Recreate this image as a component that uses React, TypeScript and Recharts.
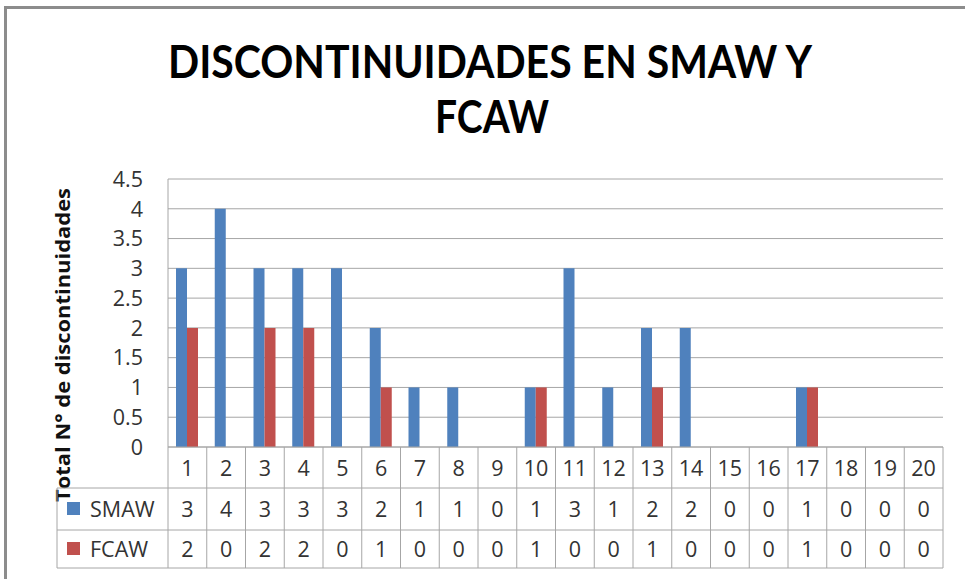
import React from "react";
import { BarChart, Bar, XAxis, YAxis, CartesianGrid } from "recharts";

const categories = ["1","2","3","4","5","6","7","8","9","10","11","12","13","14","15","16","17","18","19","20"];
const smaw = [3,4,3,3,3,2,1,1,0,1,3,1,2,2,0,0,1,0,0,0];
const fcaw = [2,0,2,2,0,1,0,0,0,1,0,0,1,0,0,0,1,0,0,0];
const yTicks = [0,0.5,1,1.5,2,2.5,3,3.5,4,4.5];
const seriesNames = ["SMAW", "FCAW"];
const titleLines = ["DISCONTINUIDADES EN SMAW Y", "FCAW"];
const yLabel = "Total N° de discontinuidades";

const data = categories.map((c, i) => ({ cat: c, SMAW: smaw[i], FCAW: fcaw[i] }));

const W = 965;
const H = 579;
const PL = 168;
const PR = 943;
const PT = 179;
const PB = 447;
const BW = (PR - PL) / categories.length;
const ROW1 = 488;
const ROW2 = 530;
const ROW3 = 568;
const TLEFT = 57;
const LINE = "#A6A6A6";
const BLUE = "#4F81BD";
const RED = "#C0504D";
const FONT = "'Open Sans', 'Noto Sans', sans-serif";
const TXT = "#333333";
const FS = 21.5;

const TableTick = (props: any) => {
  const { x, index, payload } = props;
  const i = index;
  const left = x - BW / 2;
  const right = x + BW / 2;
  return (
    <g>
      {i === 0 && (
        <g>
          <line x1={PL} y1={PB} x2={PR} y2={PB} stroke={LINE} />
          <line x1={TLEFT} y1={ROW1} x2={PR} y2={ROW1} stroke={LINE} />
          <line x1={TLEFT} y1={ROW2} x2={PR} y2={ROW2} stroke={LINE} />
          <line x1={TLEFT} y1={ROW3} x2={PR} y2={ROW3} stroke={LINE} />
          <line x1={TLEFT} y1={ROW1} x2={TLEFT} y2={ROW3} stroke={LINE} />
          <rect x={67} y={(ROW1 + ROW2) / 2 - 7} width={13} height={13} fill={BLUE} />
          <text x={90} y={(ROW1 + ROW2) / 2} dy="0.36em" fontSize={FS} fill={TXT} fontFamily={FONT}>{seriesNames[0]}</text>
          <rect x={67} y={(ROW2 + ROW3) / 2 - 7} width={13} height={13} fill={RED} />
          <text x={90} y={(ROW2 + ROW3) / 2} dy="0.36em" fontSize={FS} fill={TXT} fontFamily={FONT}>{seriesNames[1]}</text>
        </g>
      )}
      <line x1={left} y1={PB} x2={left} y2={ROW3} stroke={LINE} />
      {i === categories.length - 1 && <line x1={right} y1={PB} x2={right} y2={ROW3} stroke={LINE} />}
      <text x={x} y={(PB + ROW1) / 2 + 1} dy="0.36em" textAnchor="middle" fontSize={FS} fill={TXT} fontFamily={FONT}>{payload.value}</text>
      <text x={x} y={(ROW1 + ROW2) / 2} dy="0.36em" textAnchor="middle" fontSize={FS} fill={TXT} fontFamily={FONT}>{smaw[i]}</text>
      <text x={x} y={(ROW2 + ROW3) / 2} dy="0.36em" textAnchor="middle" fontSize={FS} fill={TXT} fontFamily={FONT}>{fcaw[i]}</text>
    </g>
  );
};

const YTick = (props: any) => {
  const { y, payload } = props;
  return (
    <text x={143} y={y} dy="0.36em" textAnchor="end" fontSize={FS} fill={TXT} fontFamily={FONT}>
      {String(payload.value)}
    </text>
  );
};

const YLabel = () => (
  <text
    x={70}
    y={345}
    transform="rotate(-90 70 345)"
    textAnchor="middle"
    fontSize={20}
    fontWeight="bold"
    fill="#111"
    fontFamily="'Open Sans', 'Noto Sans', sans-serif"
    textLength={314}
    lengthAdjust="spacingAndGlyphs"
  >
    {yLabel}
  </text>
);

export default function App() {
  return (
    <div style={{ position: "absolute", left: 0, top: 0, width: W, height: H, background: "#fff" }}>
      <svg width={W} height={H} style={{ position: "absolute", left: 0, top: 0 }}>
        <rect x={5.5} y={7.5} width={W} height={H} fill="#fff" stroke="#8C8C8C" strokeWidth={3} />
        <text x={490} y={78} textAnchor="middle" fontSize={46} fontWeight="bold" fill="#000" fontFamily="Lato, 'Open Sans', sans-serif" textLength={644} lengthAdjust="spacingAndGlyphs">
          {titleLines[0]}
        </text>
        <text x={492} y={133} textAnchor="middle" fontSize={46} fontWeight="bold" fill="#000" fontFamily="Lato, 'Open Sans', sans-serif" textLength={114} lengthAdjust="spacingAndGlyphs">
          {titleLines[1]}
        </text>
      </svg>
      <div style={{ position: "absolute", left: 0, top: 0 }}>
        <BarChart
          width={W}
          height={H}
          data={data}
          margin={{ top: PT, right: W - PR, bottom: 0, left: 0 }}
          barGap={0}
          barSize={11}
        >
          <CartesianGrid horizontal={true} vertical={false} stroke={LINE} />
          <XAxis
            dataKey="cat"
            height={H - PB}
            axisLine={false}
            tickLine={false}
            interval={0}
            tick={<TableTick />}
          />
          <YAxis
            width={PL}
            domain={[0, 4.5]}
            ticks={yTicks}
            interval={0}
            axisLine={{ stroke: LINE }}
            tickLine={false}
            tick={<YTick />}
            label={<YLabel />}
          />
          <Bar dataKey="SMAW" fill={BLUE} isAnimationActive={false} />
          <Bar dataKey="FCAW" fill={RED} isAnimationActive={false} />
        </BarChart>
      </div>
    </div>
  );
}
